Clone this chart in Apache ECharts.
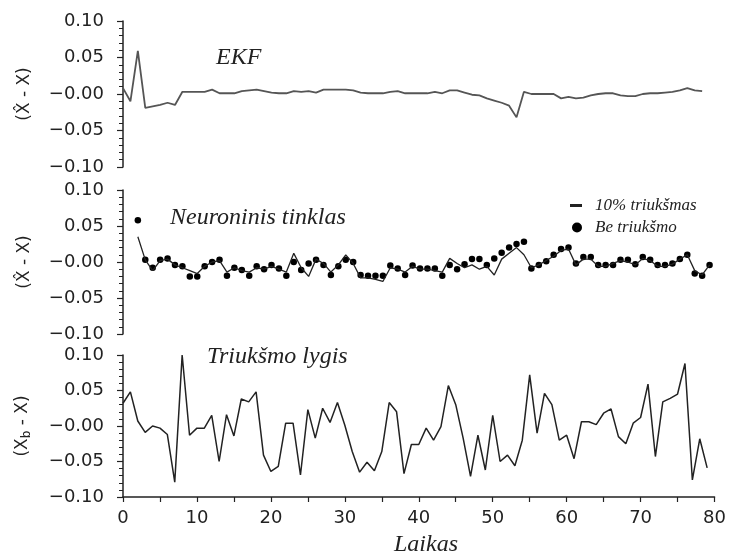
<!DOCTYPE html>
<html>
<head>
<meta charset="utf-8">
<script src="https://cdn.jsdelivr.net/npm/echarts@6/dist/echarts.min.js"></script>
<style>html,body{margin:0;padding:0;background:#fff}#c{width:729px;height:558px}</style>
</head>
<body>
<div id="c"></div>
<script>
// Time axis (Laikas)
const xTicks = [0, 10, 20, 30, 40, 50, 60, 70, 80];
const yTicks = [-0.10, -0.05, 0.00, 0.05, 0.10];

// EKF error, t = 0..78
const ekfStart = 0;
const ekfErr = [0.008, -0.010, 0.059, -0.019, -0.017, -0.015, -0.012, -0.015, 0.003, 0.003,
  0.003, 0.003, 0.006, 0.001, 0.001, 0.001, 0.004, 0.005, 0.006, 0.004,
  0.002, 0.001, 0.001, 0.004, 0.003, 0.004, 0.002, 0.006, 0.006, 0.006,
  0.006, 0.005, 0.002, 0.001, 0.001, 0.001, 0.003, 0.004, 0.001, 0.001,
  0.001, 0.001, 0.003, 0.001, 0.005, 0.005, 0.002, -0.001, -0.002, -0.006,
  -0.009, -0.012, -0.016, -0.032, 0.003, 0.000, 0.000, 0.000, 0.000, -0.006,
  -0.004, -0.006, -0.005, -0.002, 0.000, 0.001, 0.001, -0.002, -0.003, -0.003,
  0.000, 0.001, 0.001, 0.002, 0.003, 0.005, 0.008, 0.005, 0.004];

// Neural network error, t = 2..79
const nnStart = 2;
const nnNoise10 = [0.035, 0.003, -0.012, 0.002, 0.004, -0.004, -0.008, -0.012,
  -0.016, -0.006, 0.000, 0.002, -0.014, -0.008, -0.012, -0.014, -0.008, -0.010,
  -0.006, -0.010, -0.014, 0.012, -0.008, -0.020, 0.004, -0.002, -0.014, -0.004,
  0.010, -0.002, -0.022, -0.022, -0.024, -0.027, -0.008, -0.010, -0.014, -0.006,
  -0.010, -0.010, -0.012, -0.014, 0.005, -0.002, -0.008, -0.004, -0.010, -0.006,
  -0.018, 0.004, 0.012, 0.020, 0.010, -0.008, -0.004, 0.002, 0.008, 0.016,
  0.018, -0.004, 0.004, 0.004, -0.006, -0.006, -0.002, 0.002, 0.000, -0.004,
  0.005, 0.002, -0.006, -0.006, -0.003, 0.004, 0.010, -0.012, -0.018, -0.004];
const nnNoNoise = [0.058, 0.003, -0.008, 0.003, 0.005, -0.004, -0.006, -0.020,
  -0.020, -0.006, 0.000, 0.003, -0.019, -0.008, -0.011, -0.019, -0.006, -0.010,
  -0.004, -0.009, -0.019, 0.000, -0.011, -0.002, 0.003, -0.004, -0.018, -0.006,
  0.003, 0.000, -0.018, -0.019, -0.019, -0.019, -0.005, -0.009, -0.018, -0.005,
  -0.009, -0.009, -0.009, -0.019, -0.004, -0.010, -0.003, 0.004, 0.004, -0.004,
  0.005, 0.013, 0.020, 0.025, 0.028, -0.009, -0.004, 0.001, 0.010, 0.018,
  0.020, -0.002, 0.007, 0.007, -0.004, -0.004, -0.004, 0.003, 0.003, -0.003,
  0.007, 0.003, -0.004, -0.004, -0.002, 0.004, 0.010, -0.016, -0.019, -0.004];

// Noise level, t = 0..79
const noiseStart = 0;
const noiseLevel = [0.032, 0.048, 0.007, -0.009, 0.000, -0.003, -0.012, -0.079, 0.100, -0.013,
  -0.003, -0.003, 0.015, -0.050, 0.016, -0.014, 0.038, 0.034, 0.048, -0.041,
  -0.064, -0.057, 0.004, 0.004, -0.069, 0.023, -0.017, 0.025, 0.005, 0.033,
  0.001, -0.036, -0.065, -0.051, -0.063, -0.036, 0.033, 0.020, -0.067, -0.026,
  -0.026, -0.003, -0.020, -0.001, 0.057, 0.030, -0.017, -0.071, -0.013, -0.062,
  0.015, -0.050, -0.041, -0.056, -0.020, 0.072, -0.010, 0.046, 0.030, -0.020,
  -0.013, -0.046, 0.006, 0.006, 0.002, 0.018, 0.024, -0.015, -0.025, 0.004,
  0.012, 0.059, -0.043, 0.034, 0.039, 0.045, 0.088, -0.076, -0.018, -0.059];

const pairs = (start, arr) => arr.map((v, i) => [start + i, v]);

const sans = 'DejaVu Sans';
const serif = 'Liberation Serif';
const ink = '#222';

function yFmt(v) {
  if (Math.abs(v) < 1e-9) return '\u22120.00';
  return (v < 0 ? '\u2212' : '') + Math.abs(v).toFixed(2);
}

function makeY(idx, name, rich) {
  return {
    gridIndex: idx, type: 'value',
    min: yTicks[0], max: yTicks[yTicks.length - 1], interval: 0.05,
    name: name, nameLocation: 'middle', nameGap: 90,
    nameTextStyle: Object.assign({ fontFamily: sans, fontSize: 17, color: ink }, rich ? { rich: rich } : {}),
    axisLine: { show: true, lineStyle: { color: ink, width: 1.5 } },
    axisTick: { show: true, inside: false, length: 6, lineStyle: { color: ink, width: 1.2 } },
    minorTick: { show: true, splitNumber: 5, length: 4, lineStyle: { color: ink, width: 1 } },
    splitLine: { show: false },
    axisLabel: { formatter: yFmt, fontFamily: sans, fontSize: 18, color: ink, margin: 19 }
  };
}

function makeX(idx, showAll) {
  return {
    gridIndex: idx, type: 'value', min: xTicks[0], max: xTicks[xTicks.length - 1], interval: 10,
    show: showAll,
    axisLine: { show: true, onZero: false, lineStyle: { color: ink, width: 1.5 } },
    axisTick: { show: true, length: 5, lineStyle: { color: ink, width: 1.2 } },
    minorTick: { show: true, splitNumber: 2, length: 5, lineStyle: { color: ink, width: 1.2 } },
    splitLine: { show: false },
    axisLabel: { fontFamily: sans, fontSize: 18, color: ink, margin: 12 }
  };
}

const chart = echarts.init(document.getElementById('c'), null, { renderer: 'canvas' });
chart.setOption({
  animation: false,
  backgroundColor: '#fff',
  grid: [
    { left: 123, right: 12, top: 21, height: 146 },
    { left: 123, right: 12, top: 190, height: 144 },
    { left: 123, right: 12, top: 355, height: 142 }
  ],
  xAxis: [makeX(0, false), makeX(1, false), makeX(2, true)],
  yAxis: [
    makeY(0, '(X\u0302 - X)'),
    makeY(1, '(X\u0302 - X)'),
    makeY(2, '{a|(X}{s|b}{a| - X)}', {
      a: { fontFamily: sans, fontSize: 17, color: ink },
      s: { fontFamily: sans, fontSize: 12, color: ink, padding: [8, 0, 0, 0] }
    })
  ],
  legend: [
    { data: [{ name: '10% triukšmas', icon: 'rect' }], left: 565, top: 192, itemWidth: 12, itemHeight: 3,
      textStyle: { fontFamily: serif, fontStyle: 'italic', fontSize: 17, color: ink, padding: [0, 0, 0, 8] } },
    { data: [{ name: 'Be triukšmo', icon: 'circle' }], left: 567, top: 214, itemWidth: 10, itemHeight: 10,
      textStyle: { fontFamily: serif, fontStyle: 'italic', fontSize: 17, color: ink, padding: [0, 0, 0, 8] } }
  ],
  graphic: [
    { type: 'text', left: 216, top: 46, style: { text: 'EKF', font: 'italic 24px "Liberation Serif"', fill: ink } },
    { type: 'text', left: 170, top: 206, style: { text: 'Neuroninis tinklas', font: 'italic 24px "Liberation Serif"', fill: ink } },
    { type: 'text', left: 207, top: 345, style: { text: 'Triukšmo lygis', font: 'italic 24px "Liberation Serif"', fill: ink } },
    { type: 'text', left: 394, top: 533, style: { text: 'Laikas', font: 'italic 24px "Liberation Serif"', fill: ink } }
  ],
  series: [
    { type: 'line', name: 'EKF', xAxisIndex: 0, yAxisIndex: 0, data: pairs(ekfStart, ekfErr),
      showSymbol: false, lineStyle: { color: '#555', width: 1.8 }, itemStyle: { color: '#555' } },
    { type: 'line', name: '10% triukšmas', xAxisIndex: 1, yAxisIndex: 1, data: pairs(nnStart, nnNoise10),
      showSymbol: false, lineStyle: { color: ink, width: 1.3 }, itemStyle: { color: ink } },
    { type: 'scatter', name: 'Be triukšmo', xAxisIndex: 1, yAxisIndex: 1, data: pairs(nnStart, nnNoNoise),
      symbolSize: 6.5, itemStyle: { color: '#000', opacity: 1 } },
    { type: 'line', name: 'noise', xAxisIndex: 2, yAxisIndex: 2, data: pairs(noiseStart, noiseLevel),
      showSymbol: false, lineStyle: { color: ink, width: 1.5 }, itemStyle: { color: ink } }
  ]
});
</script>
</body>
</html>
